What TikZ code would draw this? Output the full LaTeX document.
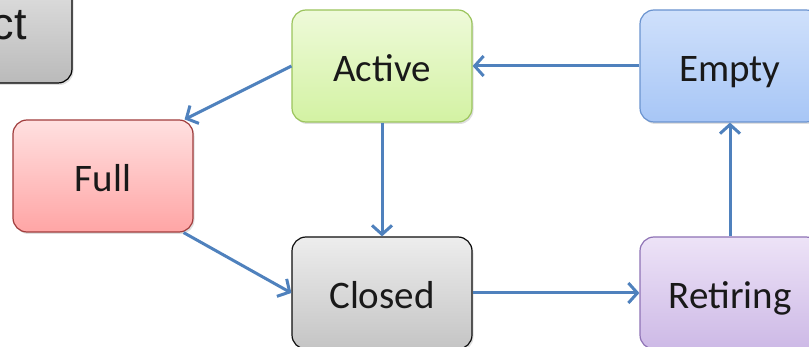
\documentclass[tikz,border=0pt]{standalone}
\usepackage{fontspec}
\setmainfont{Carlito}
\newfontfamily\arialfont{Liberation Sans}
\usetikzlibrary{arrows.meta,shadows}
\definecolor{arrowblue}{HTML}{4F81BD}
\tikzstyle{state}=[rectangle, rounded corners=14pt, draw, line width=1.2pt, minimum width=180pt, minimum height=112pt, text height=32pt, text depth=0pt, text=black!90, font=\fontsize{39}{47}\selectfont, drop shadow={opacity=0.25, shadow xshift=1.5pt, shadow yshift=-2pt}]
\tikzstyle{flow}=[draw=arrowblue, line width=3pt, -{Straight Barb[length=9pt,width=20pt]}]

\begin{document}
\begin{tikzpicture}[x=1pt, y=-1pt]
                    \useasboundingbox (0,0) rectangle (809,347);
                    \node[state, top color=black!10, bottom color=black!27, minimum width=125pt, minimum height=118pt, font=\fontsize{45}{54}\selectfont\arialfont] (ct) at (9.5, 24) {ct};
                    \node[state, draw=black!95, top color=black!7, bottom color=black!23] (closed) at (382, 293) {Closed};
                    \node[state, draw={rgb,255:red,155;green,196;blue,92}, top color={rgb,255:red,238;green,250;blue,217}, bottom color={rgb,255:red,211;green,242;blue,163}] (active) at (382, 66) {Active};
                    \node[state, draw={rgb,255:red,160;green,60;blue,60}, top color={rgb,255:red,255;green,224;blue,224}, bottom color={rgb,255:red,255;green,165;blue,165}] (full) at (103, 176) {Full};
                    \node[state, draw={rgb,255:red,106;green,147;blue,207}, top color={rgb,255:red,207;green,224;blue,251}, bottom color={rgb,255:red,167;green,198;blue,246}] (empty) at (730, 66) {Empty};
                    \node[state, draw={rgb,255:red,142;green,114;blue,181}, top color={rgb,255:red,237;green,227;blue,247}, bottom color={rgb,255:red,205;green,185;blue,230}] (retiring) at (730, 293) {Retiring};
                    % transitions
                    \draw[flow]  (active.west) -- ([xshift=-9pt]full.north east);
                    \draw[flow]  ([xshift=-10pt]full.south east) -- (closed.west);
                    \draw[flow]  (active) -- (closed);
                    \draw[flow]  (closed) -- (retiring);
                    \draw[flow]  (retiring) -- (empty);
                    \draw[flow]  (empty) -- (active);
                \end{tikzpicture}
\end{document}
